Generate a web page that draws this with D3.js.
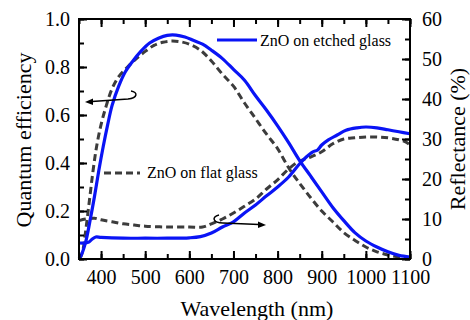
<!DOCTYPE html>
<html><head><meta charset="utf-8"><script src="https://d3js.org/d3.v7.min.js"></script></head>
<body style="margin:0">
<script>
// quantum efficiency, ZnO on etched glass
var qeEtchedWl = [350,355,365,375,385,395,405,415,425,440,455,470,490,510,530,550,570,590,610,630,650,675,700,725,750,775,800,825,850,875,900,925,950,975,1000,1025,1050,1075,1100];
var qeEtched   = [0.0,0.015,0.07,0.16,0.26,0.37,0.47,0.56,0.64,0.72,0.78,0.82,0.865,0.9,0.92,0.932,0.933,0.925,0.91,0.895,0.87,0.835,0.79,0.745,0.68,0.62,0.555,0.485,0.41,0.345,0.28,0.215,0.16,0.11,0.075,0.05,0.03,0.015,0.008];

// quantum efficiency, ZnO on flat glass
var qeFlatWl = [352,358,366,374,382,390,400,412,425,440,460,480,500,520,540,560,580,600,625,650,675,700,725,750,775,800,825,850,875,900,925,950,975,1000,1025,1050,1075,1100];
var qeFlat   = [0.0,0.03,0.13,0.25,0.37,0.47,0.56,0.64,0.71,0.76,0.8,0.835,0.865,0.89,0.903,0.908,0.905,0.895,0.87,0.825,0.77,0.72,0.65,0.585,0.52,0.46,0.38,0.315,0.255,0.2,0.155,0.11,0.078,0.05,0.03,0.017,0.008,0.003];

// reflectance (%), etched
var rEtchedWl = [350,365,372,380,388,400,450,500,550,600,625,650,675,700,725,750,775,800,825,850,865,880,890,900,915,935,955,980,1000,1025,1050,1075,1100];
var rEtched   = [4.0,4.0,4.2,5.0,5.5,5.4,5.2,5.2,5.2,5.3,5.6,6.5,8.0,9.3,11.5,13.5,15.8,18.0,20.5,23.8,25.5,26.8,27.2,28.5,29.8,31.0,32.2,32.8,33.0,32.8,32.3,31.8,31.3];

// reflectance (%), flat
var rFlatWl = [350,365,385,400,425,450,475,500,550,600,630,650,675,700,725,750,775,800,825,850,875,900,925,950,975,1000,1025,1050,1075,1090,1100];
var rFlat   = [9.6,10.0,10.2,9.8,9.3,8.8,8.5,8.2,8.0,8.0,8.0,8.8,10.0,11.5,13.2,15.0,17.5,19.8,22.5,24.5,25.5,26.8,28.8,30.0,30.3,30.5,30.5,30.3,29.8,29.3,28.5];

var xTicks = [400,500,600,700,800,900,1000,1100];
var qeTicks = [0,0.2,0.4,0.6,0.8,1.0];
var rTicks = [0,10,20,30,40,50,60];

var W = 470, H = 320;
var pL = 79, pR = 410, pT = 19, pB = 259;
var FONT = "'Times New Roman', 'Liberation Serif', 'Nimbus Roman', FreeSerif, Tinos, serif";

var svg = d3.select("body").append("svg")
    .attr("width", W)
    .attr("height", H)
    .attr("font-family", FONT);

var x = d3.scaleLinear().domain([350, 1100]).range([pL, pR]);
var yQ = d3.scaleLinear().domain([0, 1]).range([pB, pT]);
var yR = d3.scaleLinear().domain([0, 60]).range([pB, pT]);

function zip(a, b) {
    return a.map(function (d, i) { return [d, b[i]]; });
}

var lineQ = d3.line()
    .x(function (d) { return x(d[0]); })
    .y(function (d) { return yQ(d[1]); })
    .curve(d3.curveCatmullRom);
var lineR = d3.line()
    .x(function (d) { return x(d[0]); })
    .y(function (d) { return yR(d[1]); })
    .curve(d3.curveCatmullRom);

var blue = "#0a14f5", grey = "#3c3c3c";

svg.append("path").datum(zip(rFlatWl, rFlat))
    .attr("d", lineR).attr("fill", "none")
    .attr("stroke", grey).attr("stroke-width", 3).attr("stroke-dasharray", "7,4");
svg.append("path").datum(zip(qeFlatWl, qeFlat))
    .attr("d", lineQ).attr("fill", "none")
    .attr("stroke", grey).attr("stroke-width", 3).attr("stroke-dasharray", "7,4");
svg.append("path").datum(zip(rEtchedWl, rEtched))
    .attr("d", lineR).attr("fill", "none")
    .attr("stroke", blue).attr("stroke-width", 3.2);
svg.append("path").datum(zip(qeEtchedWl, qeEtched))
    .attr("d", lineQ).attr("fill", "none")
    .attr("stroke", blue).attr("stroke-width", 3.2);

// axes, ticks pointing in
function styleAxis(g) {
    g.attr("font-family", FONT);
    g.select(".domain").remove();
    g.selectAll(".tick line").attr("stroke", "#000").attr("stroke-width", 2);
    g.selectAll("text").style("font-family", FONT).style("font-size", "20px").style("fill", "#000");
}

var xMinor = d3.range(350, 1101, 50);
var qMinor = d3.range(0, 1.01, 0.1);
var rMinor = d3.range(0, 61, 5);

svg.append("g").attr("transform", "translate(0," + pB + ")")
    .call(d3.axisBottom(x).tickValues(xMinor).tickSize(-5).tickFormat(""))
    .call(styleAxis);
svg.append("g").attr("transform", "translate(0," + pB + ")")
    .call(d3.axisBottom(x).tickValues(xTicks).tickSize(-8).tickPadding(11).tickFormat(d3.format("d")))
    .call(styleAxis);
svg.append("g").attr("transform", "translate(0," + pT + ")")
    .call(d3.axisTop(x).tickValues(xMinor).tickSize(-5).tickFormat(""))
    .call(styleAxis);
svg.append("g").attr("transform", "translate(0," + pT + ")")
    .call(d3.axisTop(x).tickValues(xTicks).tickSize(-8).tickFormat(""))
    .call(styleAxis);

svg.append("g").attr("transform", "translate(" + pL + ",0)")
    .call(d3.axisLeft(yQ).tickValues(qMinor).tickSize(-5).tickFormat(""))
    .call(styleAxis);
svg.append("g").attr("transform", "translate(" + pL + ",0)")
    .call(d3.axisLeft(yQ).tickValues(qeTicks).tickSize(-8).tickPadding(9).tickFormat(d3.format(".1f")))
    .call(styleAxis);
svg.append("g").attr("transform", "translate(" + pR + ",0)")
    .call(d3.axisRight(yR).tickValues(rMinor).tickSize(-5).tickFormat(""))
    .call(styleAxis);
svg.append("g").attr("transform", "translate(" + pR + ",0)")
    .call(d3.axisRight(yR).tickValues(rTicks).tickSize(-8).tickPadding(12).tickFormat(d3.format("d")))
    .call(styleAxis);

svg.append("rect")
    .attr("x", pL).attr("y", pT)
    .attr("width", pR - pL).attr("height", pB - pT)
    .attr("fill", "none").attr("stroke", "#000").attr("stroke-width", 2);

// axis titles
svg.append("text")
    .attr("x", 257).attr("y", 316)
    .attr("text-anchor", "middle")
    .style("font-family", FONT).style("font-size", "22px")
    .text("Wavelength (nm)");
svg.append("text")
    .attr("transform", "translate(31,140) rotate(-90)")
    .attr("text-anchor", "middle")
    .style("font-family", FONT).style("font-size", "22px")
    .text("Quantum efficiency");
svg.append("text")
    .attr("transform", "translate(465,139) rotate(-90)")
    .attr("text-anchor", "middle")
    .style("font-family", FONT).style("font-size", "22px")
    .text("Reflectance (%)");

// legend
svg.append("line")
    .attr("x1", 217).attr("x2", 257).attr("y1", 40).attr("y2", 40)
    .attr("stroke", blue).attr("stroke-width", 3.2);
svg.append("text")
    .attr("x", 260).attr("y", 46)
    .style("font-family", FONT).style("font-size", "16px")
    .text("ZnO on etched glass");
svg.append("line")
    .attr("x1", 104).attr("x2", 140).attr("y1", 173).attr("y2", 173)
    .attr("stroke", grey).attr("stroke-width", 3).attr("stroke-dasharray", "7,4");
svg.append("text")
    .attr("x", 147).attr("y", 178)
    .style("font-family", FONT).style("font-size", "16px")
    .text("ZnO on flat glass");

// arrows
svg.append("path")
    .attr("d", "M131,91 C138,92 138,98 128,99 L92,101.5")
    .attr("fill", "none").attr("stroke", "#000").attr("stroke-width", 1.5);
svg.append("path")
    .attr("d", "M85,102 L93,98.5 L93,105 Z")
    .attr("fill", "#000");
svg.append("path")
    .attr("d", "M219,215 C211,217 213,223 223,223 L259,224.6")
    .attr("fill", "none").attr("stroke", "#000").attr("stroke-width", 1.5);
svg.append("path")
    .attr("d", "M266,225 L258,221.5 L258,228 Z")
    .attr("fill", "#000");
</script>
</body>
</html>
